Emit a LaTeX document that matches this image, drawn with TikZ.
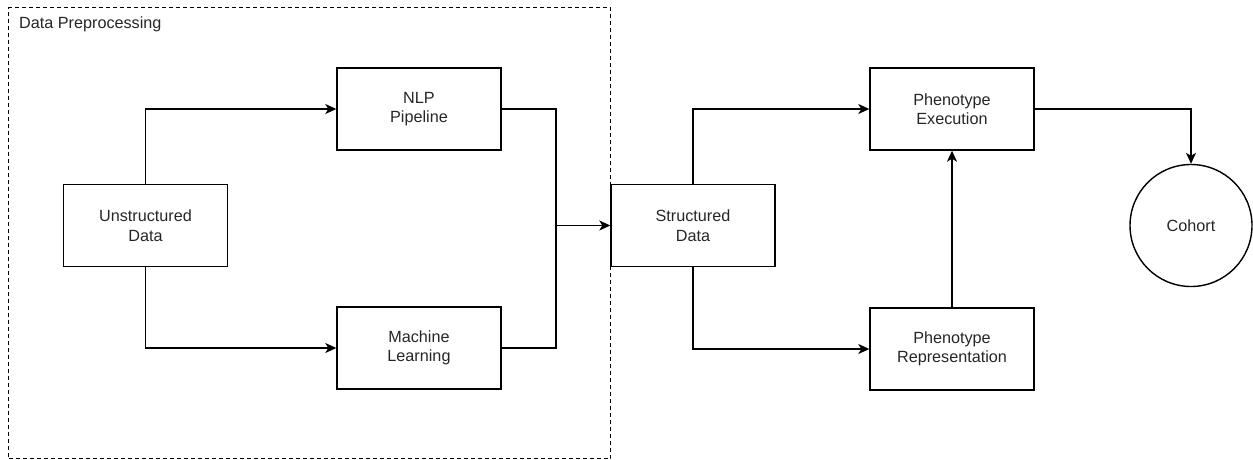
\documentclass[tikz,border=0pt]{standalone}
\usepackage{fontspec}
\setmainfont{Liberation Sans}
\usetikzlibrary{arrows.meta}
\begin{document}
\begin{tikzpicture}[x=1pt,y=-1pt,
  txt/.style={font=\fontsize{16.2}{19.5}\selectfont, text=black!85},
  box/.style={draw, line width=1.4pt, minimum width=164pt, minimum height=82pt,
    inner sep=0pt, align=center, txt},
  link/.style={draw, line width=1.4pt},
  flow/.style={link, -{Stealth[length=11pt,width=10pt,inset=3pt]}},
  group/.style={draw, line width=1.3pt, dash pattern=on 4pt off 3pt,
    minimum width=602pt, minimum height=451pt, inner sep=0pt, anchor=north west},
]
\useasboundingbox (0,0) rectangle (1253,459);

% preprocessing group
\node[group] (prep) at (8,7) {};
\node[txt, anchor=base west, inner sep=0pt] (preplabel) at (19,28) {Data Preprocessing};

% process steps
\node[box] (unstr)  at (145.5,225.5) {Unstructured\\Data};
\node[box] (nlp)    at (419,109)     {NLP\\Pipeline};
\node[box] (ml)     at (419,348)     {Machine\\Learning};
\node[box] (struct) at (693,225.5)   {Structured\\Data};
\node[box] (exec)   at (952,109)     {Phenotype\\Execution};
\node[box] (rep)    at (952,349)     {Phenotype\\Representation};
\node[draw, circle, line width=1.4pt, minimum size=122pt, inner sep=0pt, txt]
  (cohort) at (1191,225.5) {Cohort};

% connectors
\draw[flow] (unstr.north) |- (nlp.west);
\draw[flow] (unstr.south) |- (ml.west);
\coordinate (merge) at (556,225.5);
\draw[link] (nlp.east) -| (merge);
\draw[link] (ml.east) -| (merge);
\draw[flow] (merge) -- (struct.west);
\draw[flow] (struct.north) |- (exec.west);
\draw[flow] (struct.south) |- (rep.west);
\draw[flow] (rep.north) -- (exec.south);
\draw[flow] (exec.east) -| (cohort.north);
\end{tikzpicture}
\end{document}
